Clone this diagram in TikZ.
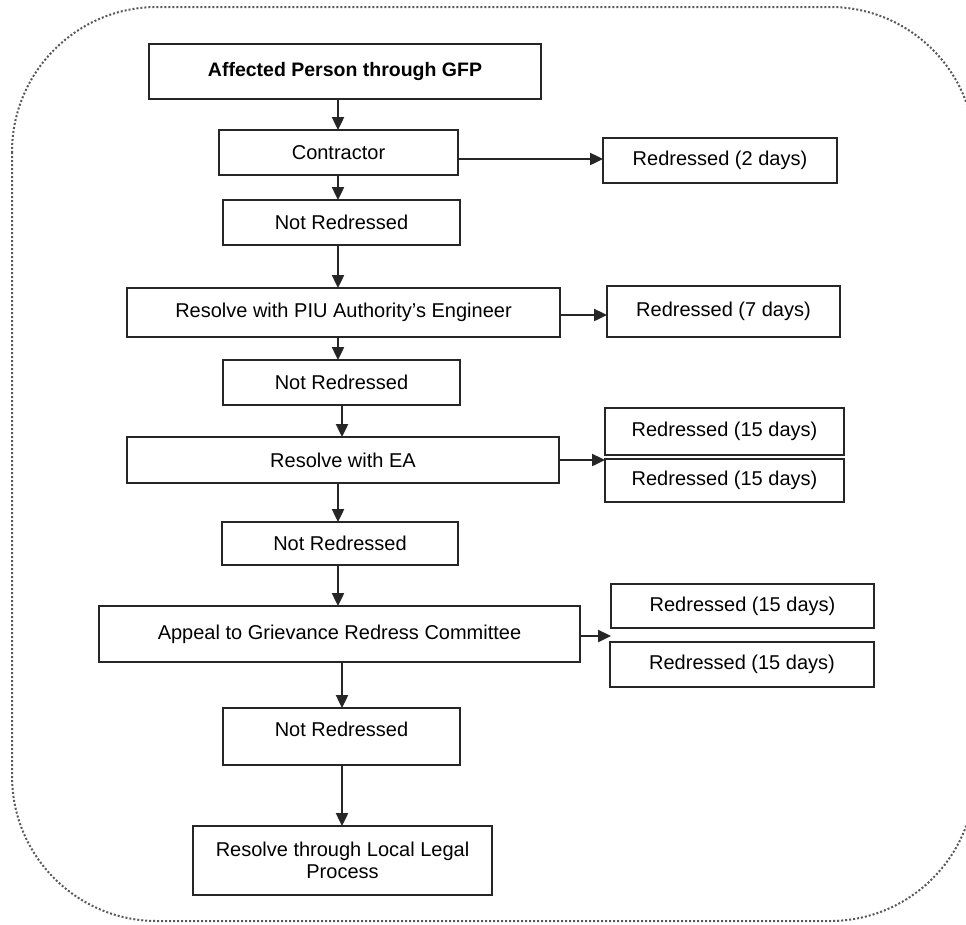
\documentclass[tikz,border=0pt]{standalone}
\usepackage{fontspec}
\setmainfont{Liberation Sans}
\usetikzlibrary{arrows.meta}
\begin{document}
\begin{tikzpicture}[x=1pt,y=-1pt,
  box/.style={draw=black!85, line width=2pt, inner sep=0pt, font=\fontsize{20}{22}\selectfont, align=center},
  arr/.style={line width=2.4pt, draw=black!85, -{Triangle[length=13pt,width=12pt]}, shorten >=-1pt}]
\useasboundingbox (0,0) rectangle (966,924);
\draw[gray!70!black, line width=2pt, dotted, rounded corners=145] (12,7) rectangle (975,921);
\node[box, minimum width=392, minimum height=55, font=\fontsize{19.5}{22}\selectfont\bfseries] (a) at (345,71.5) {Affected Person through GFP};
\node[box, minimum width=239, minimum height=45] (con) at (338.5,152.5) {Contractor};
\node[box, minimum width=234, minimum height=45] (r2) at (720,160.5) {Redressed (2 days)};
\node[box, minimum width=237, minimum height=45] (nr1) at (341.5,222.5) {Not Redressed};
\node[box, minimum width=433, minimum height=49] (piu) at (343.5,312.5) {Resolve with PIU Authority’s Engineer};
\node[box, minimum width=233, minimum height=51] (r7) at (723.5,311.5) {Redressed (7 days)};
\node[box, minimum width=237, minimum height=45] (nr2) at (341.5,382.5) {Not Redressed};
\node[box, minimum width=239, minimum height=47] (r15a) at (724.5,431.5) {Redressed (15 days)};
\node[box, minimum width=239, minimum height=43] (r15b) at (724.5,480.5) {Redressed (15 days)};
\node[box, minimum width=432, minimum height=46] (ea) at (343,460) {Resolve with EA};
\node[box, minimum width=236, minimum height=43] (nr3) at (340,543.5) {Not Redressed};
\node[box, minimum width=481, minimum height=56] (grc) at (339.5,634) {Appeal to Grievance Redress Committee};
\node[box, minimum width=263, minimum height=44] (r15c) at (742.5,606) {Redressed (15 days)};
\node[box, minimum width=264, minimum height=45] (r15d) at (742,664.5) {Redressed (15 days)};
\node[box, minimum width=237, minimum height=57] (nr4) at (341.5,736.5) {};
\node[font=\fontsize{20}{22}\selectfont, anchor=center] (nr4t) at (341.5,729) {Not Redressed};
\node[box, minimum width=299, minimum height=69] (legal) at (342.5,860.5) {Resolve through Local Legal\\[0pt]Process};
% vertical arrows
\draw[arr] (a.south -| 338,0) -- (338,0 |- con.north);
\draw[arr] (con.south -| 338,0) -- (338,0 |- nr1.north);
\draw[arr] (nr1.south -| 338,0) -- (338,0 |- piu.north);
\draw[arr] (piu.south -| 338,0) -- (338,0 |- nr2.north);
\draw[arr] (nr2.south -| 342,0) -- (342,0 |- ea.north);
\draw[arr] (ea.south -| 338,0) -- (338,0 |- nr3.north);
\draw[arr] (nr3.south -| 338,0) -- (338,0 |- grc.north);
\draw[arr] (grc.south -| 342,0) -- (342,0 |- nr4.north);
\draw[arr] (nr4.south -| 342,0) -- (342,0 |- legal.north);
% horizontal arrows
\draw[arr] (con.east |- 0,159) -- (r2.west |- 0,159);
\draw[arr] (piu.east |- 0,315) -- (r7.west |- 0,315);
\draw[arr] (ea.east) -- (ea.east -| r15a.west);
\draw[arr] (grc.east |- 0,636) -- (r15c.west |- 0,636);
\end{tikzpicture}
\end{document}
